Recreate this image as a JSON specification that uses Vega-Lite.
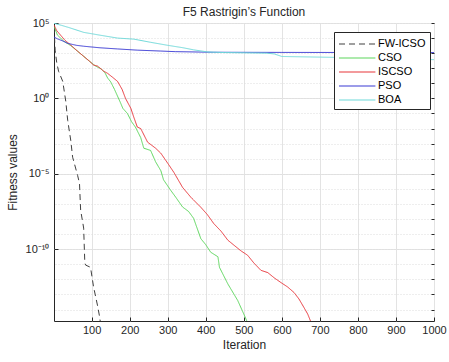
{
  "$schema": "https://vega.github.io/schema/vega-lite/v6.json",
  "width": 380,
  "height": 298,
  "autosize": {"type": "none"},
  "padding": {"left": 54, "top": 23, "right": 15, "bottom": 41},
  "background": "white",
  "config": {
    "font": "Liberation Sans",
    "view": {"stroke": "#262626", "strokeWidth": 1},
    "axis": {"labelFont": "Liberation Sans", "titleFont": "Liberation Sans", "labelColor": "#262626", "titleColor": "#262626", "titleFontWeight": "normal", "labelFontSize": 11, "titleFontSize": 12}
  },
  "title": {"text": "F5 Rastrigin’s Function", "fontSize": 12, "fontWeight": "normal", "color": "#262626", "offset": 6, "dy": 8, "anchor": "middle", "frame": "group", "font": "Liberation Sans"},
  "data": {"values": [
    {"alg": "FW-ICSO", "iter": 1, "value": 5.623e4},
    {"alg": "FW-ICSO", "iter": 4, "value": 1.585e3},
    {"alg": "FW-ICSO", "iter": 8, "value": 251.2},
    {"alg": "FW-ICSO", "iter": 13, "value": 63.1},
    {"alg": "FW-ICSO", "iter": 24, "value": 13.49},
    {"alg": "FW-ICSO", "iter": 32, "value": 0.631},
    {"alg": "FW-ICSO", "iter": 37, "value": 3.548e-2},
    {"alg": "FW-ICSO", "iter": 45, "value": 1.66e-3},
    {"alg": "FW-ICSO", "iter": 50, "value": 1.259e-4},
    {"alg": "FW-ICSO", "iter": 63, "value": 7.943e-6},
    {"alg": "FW-ICSO", "iter": 68, "value": 2.344e-6},
    {"alg": "FW-ICSO", "iter": 71, "value": 3.981e-8},
    {"alg": "FW-ICSO", "iter": 79, "value": 2.512e-9},
    {"alg": "FW-ICSO", "iter": 82, "value": 1.259e-11},
    {"alg": "FW-ICSO", "iter": 84, "value": 8.913e-12},
    {"alg": "FW-ICSO", "iter": 97, "value": 6.31e-12},
    {"alg": "FW-ICSO", "iter": 105, "value": 3.162e-13},
    {"alg": "FW-ICSO", "iter": 116, "value": 1.585e-14},
    {"alg": "FW-ICSO", "iter": 121, "value": 3.162e-15},
    {"alg": "FW-ICSO", "iter": 125, "value": 6.31e-16},

    {"alg": "CSO", "iter": 1, "value": 6.026e4},
    {"alg": "CSO", "iter": 10, "value": 1.585e4},
    {"alg": "CSO", "iter": 27, "value": 6.166e3},
    {"alg": "CSO", "iter": 45, "value": 3.162e3},
    {"alg": "CSO", "iter": 62, "value": 1.413e3},
    {"alg": "CSO", "iter": 79, "value": 616.6},
    {"alg": "CSO", "iter": 95, "value": 281.8},
    {"alg": "CSO", "iter": 110, "value": 141.3},
    {"alg": "CSO", "iter": 125, "value": 89.13},
    {"alg": "CSO", "iter": 135, "value": 50.12},
    {"alg": "CSO", "iter": 142, "value": 22.39},
    {"alg": "CSO", "iter": 150, "value": 12.59},
    {"alg": "CSO", "iter": 160, "value": 3.981},
    {"alg": "CSO", "iter": 168, "value": 1.413},
    {"alg": "CSO", "iter": 176, "value": 0.5012},
    {"alg": "CSO", "iter": 182, "value": 0.2188},
    {"alg": "CSO", "iter": 194, "value": 0.1},
    {"alg": "CSO", "iter": 205, "value": 2.818e-2},
    {"alg": "CSO", "iter": 215, "value": 1.259e-2},
    {"alg": "CSO", "iter": 229, "value": 2.512e-3},
    {"alg": "CSO", "iter": 237, "value": 5.012e-4},
    {"alg": "CSO", "iter": 255, "value": 3.548e-4},
    {"alg": "CSO", "iter": 268, "value": 6.31e-5},
    {"alg": "CSO", "iter": 282, "value": 1.585e-5},
    {"alg": "CSO", "iter": 289, "value": 3.981e-6},
    {"alg": "CSO", "iter": 308, "value": 7.943e-7},
    {"alg": "CSO", "iter": 321, "value": 2.818e-7},
    {"alg": "CSO", "iter": 339, "value": 6.31e-8},
    {"alg": "CSO", "iter": 355, "value": 3.162e-8},
    {"alg": "CSO", "iter": 368, "value": 1.122e-8},
    {"alg": "CSO", "iter": 387, "value": 5.012e-10},
    {"alg": "CSO", "iter": 400, "value": 1.995e-10},
    {"alg": "CSO", "iter": 413, "value": 6.31e-11},
    {"alg": "CSO", "iter": 432, "value": 3.162e-11},
    {"alg": "CSO", "iter": 436, "value": 6.31e-12},
    {"alg": "CSO", "iter": 458, "value": 5.012e-13},
    {"alg": "CSO", "iter": 484, "value": 3.981e-14},
    {"alg": "CSO", "iter": 500, "value": 5.012e-15},
    {"alg": "CSO", "iter": 512, "value": 1e-15},

    {"alg": "ISCSO", "iter": 1, "value": 7.413e4},
    {"alg": "ISCSO", "iter": 8, "value": 3.162e4},
    {"alg": "ISCSO", "iter": 18, "value": 1.585e4},
    {"alg": "ISCSO", "iter": 30, "value": 7.079e3},
    {"alg": "ISCSO", "iter": 45, "value": 3.467e3},
    {"alg": "ISCSO", "iter": 62, "value": 1.413e3},
    {"alg": "ISCSO", "iter": 79, "value": 616.6},
    {"alg": "ISCSO", "iter": 95, "value": 281.8},
    {"alg": "ISCSO", "iter": 105, "value": 162.2},
    {"alg": "ISCSO", "iter": 115, "value": 141.3},
    {"alg": "ISCSO", "iter": 125, "value": 89.13},
    {"alg": "ISCSO", "iter": 132, "value": 63.1},
    {"alg": "ISCSO", "iter": 142, "value": 45.71},
    {"alg": "ISCSO", "iter": 155, "value": 25.12},
    {"alg": "ISCSO", "iter": 168, "value": 13.49},
    {"alg": "ISCSO", "iter": 180, "value": 3.981},
    {"alg": "ISCSO", "iter": 189, "value": 1},
    {"alg": "ISCSO", "iter": 203, "value": 0.2188},
    {"alg": "ISCSO", "iter": 211, "value": 5.495e-2},
    {"alg": "ISCSO", "iter": 220, "value": 1.259e-2},
    {"alg": "ISCSO", "iter": 229, "value": 1e-2},
    {"alg": "ISCSO", "iter": 247, "value": 1.259e-3},
    {"alg": "ISCSO", "iter": 268, "value": 5.012e-4},
    {"alg": "ISCSO", "iter": 282, "value": 2.291e-4},
    {"alg": "ISCSO", "iter": 300, "value": 5.012e-5},
    {"alg": "ISCSO", "iter": 316, "value": 1.259e-5},
    {"alg": "ISCSO", "iter": 339, "value": 1.259e-6},
    {"alg": "ISCSO", "iter": 361, "value": 2.754e-7},
    {"alg": "ISCSO", "iter": 387, "value": 6.026e-8},
    {"alg": "ISCSO", "iter": 404, "value": 1.995e-8},
    {"alg": "ISCSO", "iter": 421, "value": 5.012e-9},
    {"alg": "ISCSO", "iter": 440, "value": 1.585e-9},
    {"alg": "ISCSO", "iter": 458, "value": 3.981e-10},
    {"alg": "ISCSO", "iter": 492, "value": 7.943e-11},
    {"alg": "ISCSO", "iter": 510, "value": 3.981e-11},
    {"alg": "ISCSO", "iter": 526, "value": 1.259e-11},
    {"alg": "ISCSO", "iter": 545, "value": 3.981e-12},
    {"alg": "ISCSO", "iter": 563, "value": 2.818e-12},
    {"alg": "ISCSO", "iter": 580, "value": 1.259e-12},
    {"alg": "ISCSO", "iter": 597, "value": 6.31e-13},
    {"alg": "ISCSO", "iter": 615, "value": 3.162e-13},
    {"alg": "ISCSO", "iter": 632, "value": 1.349e-13},
    {"alg": "ISCSO", "iter": 645, "value": 5.012e-14},
    {"alg": "ISCSO", "iter": 658, "value": 1.38e-14},
    {"alg": "ISCSO", "iter": 668, "value": 5.012e-15},
    {"alg": "ISCSO", "iter": 676, "value": 1.585e-15},
    {"alg": "ISCSO", "iter": 680, "value": 7.943e-16},

    {"alg": "PSO", "iter": 1, "value": 1.175e4},
    {"alg": "PSO", "iter": 10, "value": 8.913e3},
    {"alg": "PSO", "iter": 25, "value": 6.31e3},
    {"alg": "PSO", "iter": 37, "value": 4.467e3},
    {"alg": "PSO", "iter": 60, "value": 3.311e3},
    {"alg": "PSO", "iter": 79, "value": 2.884e3},
    {"alg": "PSO", "iter": 120, "value": 2.291e3},
    {"alg": "PSO", "iter": 168, "value": 1.905e3},
    {"alg": "PSO", "iter": 220, "value": 1.585e3},
    {"alg": "PSO", "iter": 282, "value": 1.38e3},
    {"alg": "PSO", "iter": 320, "value": 1.259e3},
    {"alg": "PSO", "iter": 420, "value": 1.148e3},
    {"alg": "PSO", "iter": 600, "value": 1.122e3},
    {"alg": "PSO", "iter": 1000, "value": 1.096e3},

    {"alg": "BOA", "iter": 1, "value": 9.55e4},
    {"alg": "BOA", "iter": 20, "value": 7.079e4},
    {"alg": "BOA", "iter": 40, "value": 5.012e4},
    {"alg": "BOA", "iter": 79, "value": 2.399e4},
    {"alg": "BOA", "iter": 120, "value": 1.585e4},
    {"alg": "BOA", "iter": 168, "value": 1e4},
    {"alg": "BOA", "iter": 211, "value": 8.511e3},
    {"alg": "BOA", "iter": 255, "value": 5.248e3},
    {"alg": "BOA", "iter": 300, "value": 3.311e3},
    {"alg": "BOA", "iter": 340, "value": 2.291e3},
    {"alg": "BOA", "iter": 368, "value": 1.66e3},
    {"alg": "BOA", "iter": 405, "value": 1.202e3},
    {"alg": "BOA", "iter": 450, "value": 1.096e3},
    {"alg": "BOA", "iter": 560, "value": 1e3},
    {"alg": "BOA", "iter": 580, "value": 891.3},
    {"alg": "BOA", "iter": 600, "value": 602.6},
    {"alg": "BOA", "iter": 740, "value": 524.8},
    {"alg": "BOA", "iter": 800, "value": 478.6},
    {"alg": "BOA", "iter": 900, "value": 426.6},
    {"alg": "BOA", "iter": 1000, "value": 371.5}
  ]},
  "layer": [
    {
      "mark": {"type": "line", "strokeWidth": 1, "clip": true, "interpolate": "linear"},
      "encoding": {
        "x": {"field": "iter", "type": "quantitative",
          "scale": {"domain": [1, 1000], "nice": false, "zero": false},
          "axis": {"title": "Iteration", "format": "d", "values": [100, 200, 300, 400, 500, 600, 700, 800, 900, 1000], "grid": true, "gridColor": "#e3e3e3", "domain": false, "tickSize": -4, "tickColor": "#262626", "labelPadding": 7, "titlePadding": 4, "labelFlush": false}},
        "y": {"field": "value", "type": "quantitative",
          "scale": {"type": "log", "domain": [1.74e-15, 100000], "nice": false},
          "axis": {"title": "Fitness values", "orient": "left", "values": [100000, 1, 0.00001, 1e-10], "labelExpr": "datum.value > 1000 ? '10⁵' : datum.value > 0.001 ? '10⁰' : datum.value > 1e-8 ? '10⁻⁵' : '10⁻¹⁰'", "grid": true, "gridColor": "#e3e3e3", "domain": false, "tickSize": -4, "tickColor": "#262626", "labelPadding": 9, "titlePadding": 6}},
        "color": {"field": "alg", "type": "nominal",
          "scale": {"domain": ["FW-ICSO", "CSO", "ISCSO", "PSO", "BOA"], "range": ["#404040", "#5cd65c", "#e8363b", "#3b3bd4", "#6ed9d9"]},
          "legend": {"orient": "none", "legendX": 280, "legendY": 9, "title": null, "symbolType": "M-1,0H4.2", "symbolSize": 196, "symbolStrokeWidth": 1.2, "symbolFillColor": "transparent", "labelFontSize": 11, "labelColor": "#000000", "labelFont": "Liberation Sans", "strokeColor": "#262626", "fillColor": "white", "padding": 4, "rowPadding": 1, "labelOffset": 24}},
        "strokeDash": {"field": "alg", "type": "nominal",
          "scale": {"domain": ["FW-ICSO", "CSO", "ISCSO", "PSO", "BOA"], "range": [[6, 4], [1, 0], [1, 0], [1, 0], [1, 0]]},
          "legend": {"orient": "none", "legendX": 280, "legendY": 9, "title": null, "symbolType": "M-1,0H4.2", "symbolSize": 196, "symbolStrokeWidth": 1.2, "symbolFillColor": "transparent", "labelFontSize": 11, "labelColor": "#000000", "labelFont": "Liberation Sans", "strokeColor": "#262626", "fillColor": "white", "padding": 4, "rowPadding": 1, "labelOffset": 24}}
      }
    },
    {
      "mark": {"type": "line", "opacity": 0},
      "encoding": {
        "x": {"field": "iter", "type": "quantitative"},
        "y": {"field": "value", "type": "quantitative",
          "axis": {"orient": "right", "title": null, "labels": false, "values": [1e5, 1e4, 1e3, 1e2, 1e1, 1, 1e-1, 1e-2, 1e-3, 1e-4, 1e-5, 1e-6, 1e-7, 1e-8, 1e-9, 1e-10, 1e-11, 1e-12, 1e-13, 1e-14], "grid": true, "gridColor": "#dcdcdc", "gridDash": [1, 2], "domain": false, "tickSize": -3, "tickColor": "#262626"}},
        "detail": {"field": "alg", "type": "nominal"}
      }
    }
  ],
  "resolve": {"axis": {"y": "independent"}}
}
